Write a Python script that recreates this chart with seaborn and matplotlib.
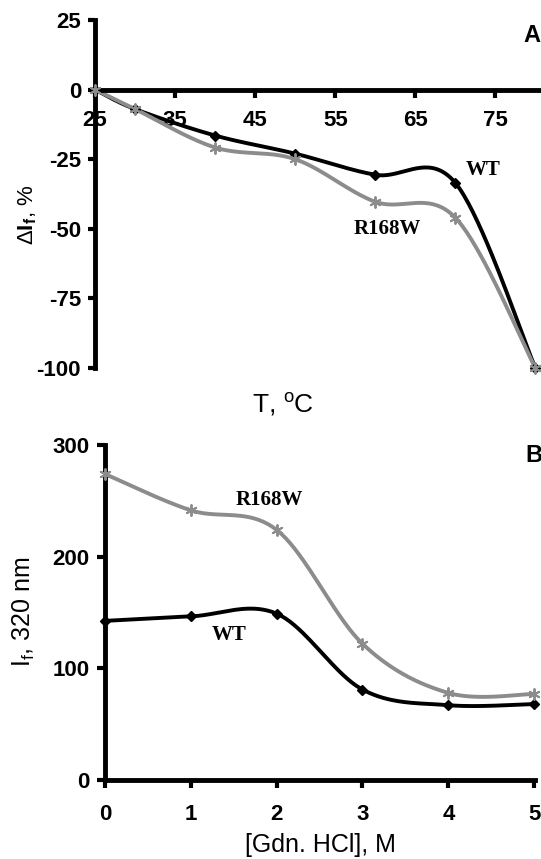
import numpy as np
import pandas as pd
import matplotlib
matplotlib.use("Agg")
import matplotlib.pyplot as plt
import seaborn as sns

# Panel A: thermal unfolding, change of fluorescence intensity (%)
temp = [25, 30, 40, 50, 60, 70, 80]
wt_temp = [0, -7, -16.5, -23, -30.6, -33.5, -100]
r168w_temp = [0, -7, -20.8, -25, -40.3, -46, -100]
temp_ticks = [25, 35, 45, 55, 65, 75]

# Panel B: Gdn. HCl denaturation, fluorescence intensity at 320 nm
gdn = [0, 1, 2, 3, 4, 5]
wt_gdn = [142.5, 146.5, 149, 81, 67, 68]
r168w_gdn = [274, 241.5, 224, 122, 78, 77]
gdn_yticks = [0, 100, 200, 300]

sns.set_style("ticks")
plt.rcParams["font.family"] = ["Liberation Sans", "DejaVu Sans"]
plt.rcParams["mathtext.fontset"] = "custom"
plt.rcParams["mathtext.rm"] = "Liberation Sans"
plt.rcParams["mathtext.bf"] = "Liberation Sans:bold"
plt.rcParams["mathtext.it"] = "Liberation Sans:italic"
plt.rcParams["axes.unicode_minus"] = False
plt.rcParams["axes.edgecolor"] = "black"
plt.rcParams["xtick.color"] = "black"
plt.rcParams["ytick.color"] = "black"
plt.rcParams["text.color"] = "black"

BLACK = "#000000"
GREY = "#8c8c8c"


def smooth(ax, xs, ys, n=40):
    # Excel-style smoothed line: Bezier segments with Catmull-Rom control points in screen space
    pts = ax.transData.transform(np.column_stack([xs, ys]))
    P = np.vstack([pts[0], pts, pts[-1]])
    t = np.linspace(0, 1, n)[:, None]
    segs = []
    for i in range(1, len(P) - 2):
        p0, p1, p2, p3 = P[i - 1], P[i], P[i + 1], P[i + 2]
        c1 = p1 + (p2 - p0) / 6
        c2 = p2 - (p3 - p1) / 6
        segs.append((1 - t) ** 3 * p1 + 3 * (1 - t) ** 2 * t * c1
                    + 3 * (1 - t) * t ** 2 * c2 + t ** 3 * p2)
    curve = ax.transData.inverted().transform(np.vstack(segs))
    return curve[:, 0], curve[:, 1]


def draw_series(ax, xs, ys, color, marker, ms):
    cx, cy = smooth(ax, xs, ys)
    ax.plot(cx, cy, color=color, lw=2.8, solid_capstyle="round", clip_on=False)
    df = pd.DataFrame({"x": xs, "y": ys})
    sns.scatterplot(data=df, x="x", y="y", ax=ax, color=color, marker=marker,
                    s=ms, linewidth=1.4, edgecolor=color, clip_on=False, zorder=3)


W, H = 541, 859
fig = plt.figure(figsize=(W / 100, H / 100), dpi=100)

# ---- Panel A ----
axA = fig.add_axes([95 / W, 1 - 368 / H, (W - 95) / W, 348 / H])
axA.set_xlim(25, 80.7)
axA.set_ylim(-100, 25)
axA.spines["top"].set_visible(False)
axA.spines["right"].set_visible(False)
axA.spines["bottom"].set_position(("data", 0))
for s in ["left", "bottom"]:
    axA.spines[s].set_linewidth(3.5)
axA.set_xticks(temp_ticks)
axA.set_yticks([25, 0, -25, -50, -75, -100])
axA.tick_params(axis="x", direction="out", length=6, width=3, pad=9, labelsize=16)
axA.tick_params(axis="y", direction="out", length=5, width=3, pad=5, labelsize=16)
for lab in axA.get_xticklabels() + axA.get_yticklabels():
    lab.set_fontweight("bold")

draw_series(axA, temp, wt_temp, BLACK, "D", 22)
draw_series(axA, temp, r168w_temp, GREY, (6, 2, 0), 60)

axA.set_xlabel("")
axA.set_ylabel("")
fig.text(283 / W, 1 - 404 / H, r"T, $^{\rm o}$C", fontsize=19, ha="center", va="center")
fig.text(28 / W, 1 - 215 / H, r"$\Delta\mathbf{I}_\mathbf{f}$, %", fontsize=16,
         rotation=90, ha="center", va="center")
axA.text(73.5, -29, "WT", family="Liberation Serif", fontweight="bold", fontsize=15,
         ha="center", va="center")
axA.text(61.5, -50, "R168W", family="Liberation Serif", fontweight="bold", fontsize=15,
         ha="center", va="center")
fig.text(523 / W, 1 - 36 / H, "A", fontsize=17, fontweight="bold", ha="left", va="center")

# ---- Panel B ----
axB = fig.add_axes([105 / W, 1 - 780 / H, 430 / W, 335 / H])
axB.set_xlim(0, 5.01)
axB.set_ylim(0, 300)
axB.spines["top"].set_visible(False)
axB.spines["right"].set_visible(False)
for s in ["left", "bottom"]:
    axB.spines[s].set_linewidth(3.5)
axB.set_xticks(gdn)
axB.set_yticks(gdn_yticks)
axB.tick_params(axis="x", direction="out", length=6, width=3, pad=11, labelsize=16)
axB.tick_params(axis="y", direction="out", length=6, width=3, pad=5, labelsize=16)
for lab in axB.get_xticklabels() + axB.get_yticklabels():
    lab.set_fontweight("bold")

draw_series(axB, gdn, wt_gdn, BLACK, "D", 22)
draw_series(axB, gdn, r168w_gdn, GREY, (6, 2, 0), 60)

axB.set_xlabel("")
axB.set_ylabel("")
fig.text(320 / W, 1 - 845 / H, "[Gdn. HCl], M", fontsize=18, ha="center", va="center")
fig.text(24 / W, 1 - 612 / H, r"I$_\mathregular{f}$, 320 nm", fontsize=18,
         rotation=90, ha="center", va="center")
axB.text(1.91, 251, "R168W", family="Liberation Serif", fontweight="bold", fontsize=15,
         ha="center", va="center")
axB.text(1.45, 130, "WT", family="Liberation Serif", fontweight="bold", fontsize=15,
         ha="center", va="center")
fig.text(525 / W, 1 - 456 / H, "B", fontsize=17, fontweight="bold", ha="left", va="center")

fig.savefig("out.png", dpi=100)
